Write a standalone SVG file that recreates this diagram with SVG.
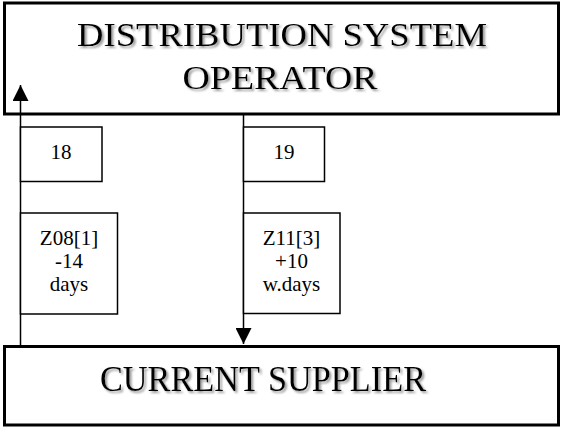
<svg xmlns="http://www.w3.org/2000/svg" width="561" height="427" viewBox="0 0 561 427">
  <defs>
    <filter id="shadow" x="-5%" y="-20%" width="110%" height="150%">
      <feDropShadow dx="2" dy="2" stdDeviation="0.8" flood-color="#808080" flood-opacity="0.8"/>
    </filter>
    <marker id="arrow" viewBox="0 0 16 16" refX="16" refY="8" markerWidth="16" markerHeight="16" markerUnits="userSpaceOnUse" orient="auto">
      <path d="M0,0 L16,8 L0,16 Z" fill="#000"/>
    </marker>
  </defs>
  <style>
    .party { fill: #fff; stroke: #000; stroke-width: 3; }
    .msg { fill: #fff; stroke: #000; stroke-width: 1.5; }
    .big { font-family: "Liberation Serif", "Times New Roman", serif; font-size: 34px; fill: #000; text-anchor: middle; filter: url(#shadow); }
    .small { font-family: "Liberation Serif", "Times New Roman", serif; font-size: 21px; fill: #000; text-anchor: middle; }
    .link { fill: none; stroke: #000; stroke-width: 1.5; marker-end: url(#arrow); }
  </style>
  <rect width="561" height="427" fill="#fff"/>

  <g id="dso">
    <rect class="party" x="4.5" y="3" width="554" height="111"/>
    <text class="big" x="282" y="46" textLength="410" lengthAdjust="spacingAndGlyphs">DISTRIBUTION SYSTEM</text>
    <text class="big" x="280" y="89" textLength="195" lengthAdjust="spacingAndGlyphs">OPERATOR</text>
  </g>

  <g id="supplier">
    <rect class="party" x="4.5" y="346.5" width="554" height="78.5"/>
    <text class="big" x="263" y="391" style="font-size:35px" textLength="326" lengthAdjust="spacingAndGlyphs">CURRENT SUPPLIER</text>
  </g>

  <g id="connectors">
    <line class="link" x1="20.5" y1="346" x2="20.5" y2="85"/>
    <line class="link" x1="243.5" y1="114.5" x2="243.5" y2="344"/>
  </g>

  <g id="msg18">
    <rect class="msg" x="20.5" y="127" width="81.5" height="54.5"/>
    <text class="small" x="61" y="159">18</text>
  </g>

  <g id="msg19">
    <rect class="msg" x="243.5" y="127" width="81" height="54.5"/>
    <text class="small" x="284" y="159">19</text>
  </g>

  <g id="z08">
    <rect class="msg" x="20.5" y="213" width="97" height="101"/>
    <text class="small" x="69" y="245">Z08[1]</text>
    <text class="small" x="69" y="268">-14</text>
    <text class="small" x="69" y="291">days</text>
  </g>

  <g id="z11">
    <rect class="msg" x="243.5" y="213" width="96.5" height="100.5"/>
    <text class="small" x="291.5" y="245">Z11[3]</text>
    <text class="small" x="291.5" y="268">+10</text>
    <text class="small" x="291.5" y="291">w.days</text>
  </g>
</svg>
